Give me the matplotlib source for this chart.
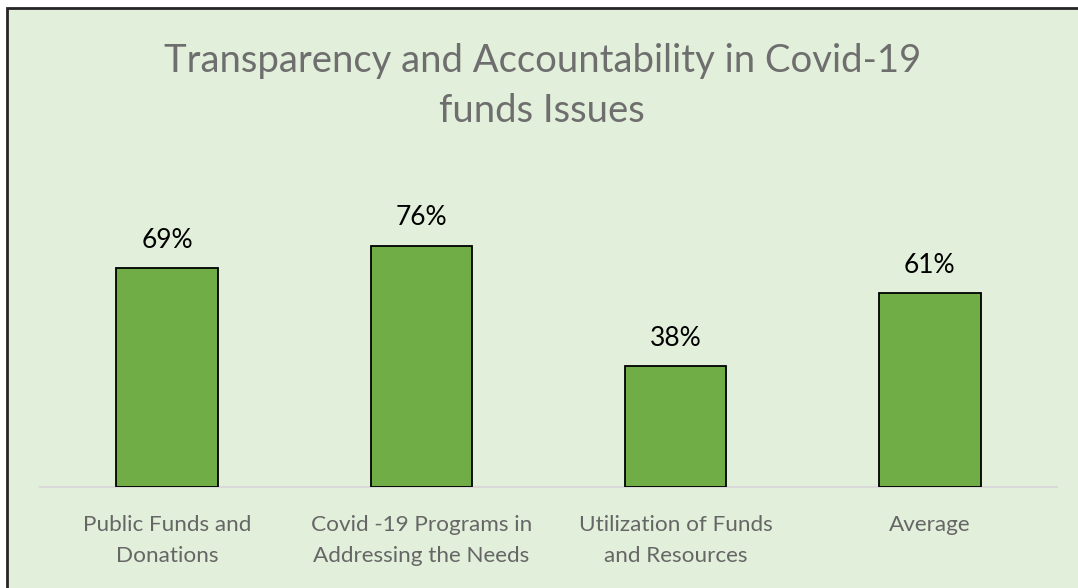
import matplotlib
matplotlib.use("Agg")
import matplotlib.pyplot as plt
from matplotlib.patches import Rectangle

plt.rcParams['font.family'] = ['Lato', 'DejaVu Sans']

categories = ["Public Funds and\nDonations",
              "Covid -19 Programs in\nAddressing the Needs",
              "Utilization of Funds\nand Resources",
              "Average"]
values = [0.69, 0.76, 0.38, 0.61]
title_lines = ["Transparency and Accountability in Covid-19", "funds Issues"]

W, H, DPI = 1078, 588, 100
fig = plt.figure(figsize=(W / DPI, H / DPI), dpi=DPI, facecolor="white")

# chart area panel with dark frame
panel = Rectangle((7 / W, -0.05), 1.2, 1 - 8 / H + 0.05, transform=fig.transFigure,
                  facecolor="#E2EFDA", edgecolor="#262626", linewidth=2.0, zorder=-5)
fig.patches.append(panel)

ax_left, ax_right = 40 / W, 1057 / W
ax_bottom = (H - 487.3) / H
ax_height = 318 / H
ax = fig.add_axes([ax_left, ax_bottom, ax_right - ax_left, ax_height])
ax.set_zorder(2)
ax.set_facecolor("none")

x = list(range(len(values)))
bars = ax.bar(x, values, width=0.4, color="#70AD47", edgecolor="black",
              linewidth=1.3, zorder=3)
ax.set_xlim(-0.5, 3.5)
ax.set_ylim(0, 1.0)

for spine in ["left", "right", "top"]:
    ax.spines[spine].set_visible(False)
ax.spines["bottom"].set_color("#D9D9D9")
ax.spines["bottom"].set_linewidth(1.5)
ax.set_yticks([])
ax.set_xticks(x)
ax.set_xticklabels(categories, color="#666666", fontsize=16.2, linespacing=1.68)
ax.tick_params(axis="x", length=0, pad=20)

for xi, v in zip(x, values):
    ax.annotate(f"{v:.0%}", xy=(xi, v), xytext=(0, 14.6), textcoords="offset points",
                ha="center", va="baseline", fontsize=19, color="black")

fig.text(0.503, 1 - 72 / H, title_lines[0], ha="center", va="baseline",
         fontsize=27.5, color="#6E6E6E")
fig.text(0.503, 1 - 122 / H, title_lines[1], ha="center", va="baseline",
         fontsize=27.5, color="#6E6E6E")

fig.savefig("out.png", dpi=DPI, facecolor="white")
